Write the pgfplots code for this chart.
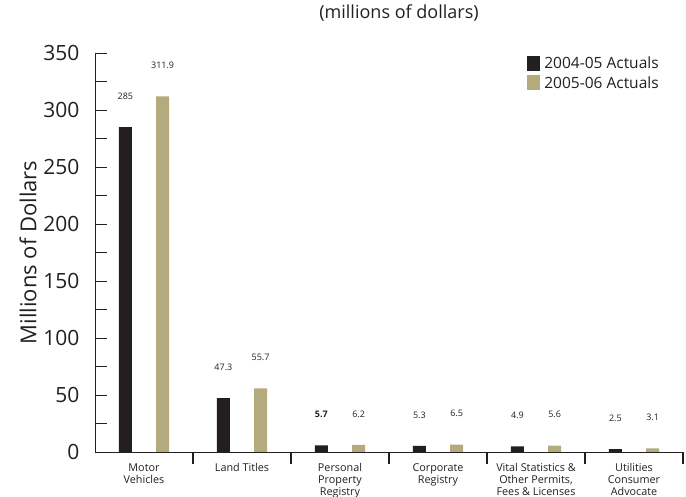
\documentclass[border=0pt]{standalone}
\usepackage{pgfplots}
\usepackage{pgfplotstable}
\pgfplotsset{compat=1.18}
\usepackage{fontspec}
\setmainfont{Open Sans}
\definecolor{darkbar}{HTML}{231F20}
\definecolor{tanbar}{HTML}{B3AB7E}
\pgfplotstableread{
x y lab
0 285 285
1 47.3 47.3
2 5.7 \textbf{5.7}
3 5.3 5.3
4 4.9 4.9
5 2.5 2.5
}\tA
\pgfplotstableread{
x y lab
0 311.9 311.9
1 55.7 55.7
2 6.2 6.2
3 6.5 6.5
4 5.6 5.6
5 3.1 3.1
}\tB
\begin{document}
\begin{tikzpicture}
\path[use as bounding box] (-95pt,-45pt) rectangle (591pt,452pt);
\begin{axis}[
  at={(0,0)}, anchor=south west,
  scale only axis, width=588pt, height=399pt,
  xmin=-0.5, xmax=5.5, ymin=0, ymax=350,
  axis x line=bottom, axis y line=left,
  axis line style={-, line width=0.8pt, draw=darkbar},
  xtick={0,...,5},
  xticklabels={{Motor\\Vehicles},{Land Titles},{Personal\\Property\\Registry},{Corporate\\Registry},{Vital Statistics \&\\Other Permits,\\Fees \& Licenses},{Utilities\\Consumer\\Advocate}},
  xticklabel style={align=center, font=\fontsize{10.8}{12}\selectfont, anchor=north, yshift=4pt, text=darkbar},
  major x tick style={draw=none},
  minor xtick={0.5,1.5,...,5.5},
  minor x tick style={line width=1.8pt, draw=darkbar},
  ytick={0,50,...,350},
  minor ytick={25,75,...,325},
  tick align=inside,
  major tick length=12pt, minor tick length=12pt,
  y tick style={line width=0.8pt, draw=darkbar},
  yticklabel style={font=\fontsize{21}{24}\selectfont, xshift=-12pt, text=darkbar},
  ylabel={Millions of Dollars},
  ylabel style={font=\fontsize{22}{24}\selectfont, xshift=0pt, yshift=0pt, text=darkbar},
  ybar, bar width=0.135,
  nodes near coords, point meta=explicit symbolic,
  every node near coord/.append style={font=\fontsize{9}{10}\selectfont, yshift=24pt, text=darkbar},
  legend style={at={(0.735,0.995)}, anchor=north west, draw=none, font=\fontsize{15.5}{17}\selectfont, row sep=2pt, inner sep=0pt, text=darkbar, nodes={inner xsep=4pt}},
  legend cell align=left,
  legend image code/.code={\fill[#1] (0pt,-7pt) rectangle (13pt,8pt);},
  /pgf/number format/assume math mode=true,
]
\addplot[fill=darkbar, draw=none, bar shift=-0.19] table[x=x, y=y, meta=lab] {\tA};
\addlegendentry{2004-05 Actuals}
\addplot[fill=tanbar, draw=none, bar shift=0.19] table[x=x, y=y, meta=lab] {\tB};
\addlegendentry{2005-06 Actuals}
\end{axis}
\node[font=\fontsize{18}{20}\selectfont, text=darkbar] at (304pt,439pt) {(millions of dollars)};
\end{tikzpicture}
\end{document}
